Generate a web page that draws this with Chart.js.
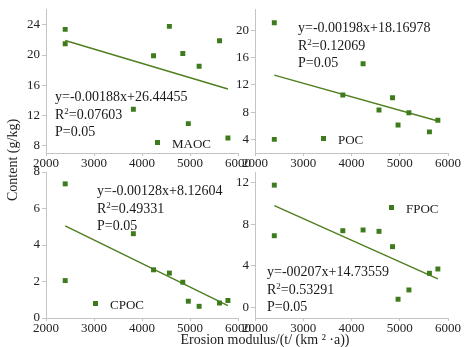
<!DOCTYPE html>
<html>
<head>
<meta charset="utf-8">
<script src="https://cdn.jsdelivr.net/npm/chart.js@4.4.1/dist/chart.umd.min.js"></script>
<style>
  body { margin: 0; background: #fff; }
  #wrap { position: relative; width: 465px; height: 347px; overflow: hidden; font-family: "Liberation Serif", serif; color: #1a1a1a; }
  canvas { position: absolute; left: 0; top: 0; }
  .eq { position: absolute; font-size: 14px; line-height: 17.5px; white-space: nowrap; }
  .eq sup { font-size: 9px; vertical-align: 5px; line-height: 0; }
  .lg { position: absolute; font-size: 13px; line-height: 16px; white-space: nowrap; }
  .lg i { display: inline-block; width: 5px; height: 5px; background: #3e7b1c; margin-right: 12px; vertical-align: 3px; }
  .ttl { position: absolute; font-size: 14px; white-space: nowrap; }
</style>
</head>
<body>
<div id="wrap">
  <canvas id="c1" width="465" height="347"></canvas>
  <canvas id="c2" width="465" height="347"></canvas>
  <canvas id="c3" width="465" height="347"></canvas>
  <canvas id="c4" width="465" height="347"></canvas>

  <div class="eq" style="left:55px;top:88px">y=-0.00188x+26.44455<br>R<sup>2</sup>=0.07603<br>P=0.05</div>
  <div class="eq" style="left:298px;top:19px">y=-0.00198x+18.16978<br>R<sup>2</sup>=0.12069<br>P=0.05</div>
  <div class="eq" style="left:97px;top:182px">y=-0.00128x+8.12604<br>R<sup>2</sup>=0.49331<br>P=0.05</div>
  <div class="eq" style="left:267px;top:263px">y=-00207x+14.73559<br>R<sup>2</sup>=0.53291<br>P=0.05</div>

  <div class="lg" style="left:155px;top:136px"><i></i>MAOC</div>
  <div class="lg" style="left:321px;top:132px"><i></i>POC</div>
  <div class="lg" style="left:93px;top:297px"><i></i>CPOC</div>
  <div class="lg" style="left:389px;top:201px"><i></i>FPOC</div>

  <div class="ttl" style="left:13px;top:160px;transform:translate(-50%,-50%) rotate(-90deg)">Content (g/kg)</div>
  <div class="ttl" style="left:265px;top:340px;transform:translate(-50%,-50%)">Erosion modulus/(t/ (km ² ·a))</div>
</div>
<script>
const erosion = [2400, 2400, 3820, 4240, 4570, 4850, 4965, 5190, 5615, 5790];
const maoc = [23.4, 21.5, 12.8, 19.9, 23.8, 20.2, 10.9, 18.5, 21.9, 9.0];
const poc = [21.1, 4.0, 10.5, 15.1, 8.3, 10.1, 6.1, 7.9, 5.1, 6.8];
const cpoc = [7.35, 2.05, 4.62, 2.64, 2.46, 1.96, 0.92, 0.64, 0.82, 0.96];
const fpoc = [11.74, 6.89, 7.37, 7.44, 7.31, 5.84, 0.8, 1.69, 3.29, 3.7];

// fitted lines, read at both ends
const trendX = [2400, 5790];
const maocTrend = [21.93, 15.5];
const pocTrend = [13.42, 6.7];
const cpocTrend = [5.05, 0.68];
const fpocTrend = [9.77, 2.75];

const xTicks = [2000, 3000, 4000, 5000, 6000];

const green = "#3e7b1c";
const lineGreen = "#507f22";
const axisGray = "#c4c4c4";
const tickFont = { family: "Liberation Serif", size: 13 };

function pairs(xs, ys) {
  return xs.map((x, i) => ({ x: x, y: ys[i] }));
}

function makePanel(id, values, trend, yMin, yMax, yStep, pad) {
  const options = {
    type: "scatter",
    data: {
      datasets: [
        {
          data: pairs(erosion, values),
          pointStyle: "rect",
          pointRadius: 3.5,
          pointBorderWidth: 0,
          backgroundColor: green,
        },
        {
          type: "line",
          data: pairs(trendX, trend),
          borderColor: lineGreen,
          borderWidth: 1.5,
          pointRadius: 0,
          fill: false,
        },
      ],
    },
    options: {
      responsive: false,
      animation: false,
      events: [],
      layout: { padding: pad },
      plugins: { legend: { display: false }, tooltip: { enabled: false } },
      scales: {
        x: {
          type: "linear",
          min: 2000,
          max: 6000,
          afterBuildTicks: (s) => { s.ticks = xTicks.map((v) => ({ value: v })); },
          afterFit: (s) => { s.height = 25; },
          ticks: { color: "#222", font: tickFont, padding: 0, maxRotation: 0, callback: (v) => String(v) },
          grid: { drawOnChartArea: false, color: axisGray, tickLength: 3 },
          border: { color: axisGray },
        },
        y: {
          min: yMin,
          max: yMax,
          afterFit: (s) => { s.width = 40; },
          ticks: { stepSize: yStep, includeBounds: false, color: "#222", font: tickFont, padding: 2, callback: (v) => String(v) },
          grid: { drawOnChartArea: false, color: axisGray, tickLength: 4 },
          border: { color: axisGray },
        },
      },
    },
  };
  return new Chart(document.getElementById(id).getContext("2d"), options);
}

makePanel("c1", maoc, maocTrend, 7, 26, 4, { left: 6, right: 227, top: 7, bottom: 169 });
makePanel("c2", poc, pocTrend, 2, 23, 4, { left: 215, right: 17, top: 7, bottom: 169 });
makePanel("c3", cpoc, cpocTrend, 0, 8, 2, { left: 6, right: 227, top: 172, bottom: 4 });
makePanel("c4", fpoc, fpocTrend, -1, 13, 4, { left: 215, right: 17, top: 172, bottom: 4 });
</script>
</body>
</html>
